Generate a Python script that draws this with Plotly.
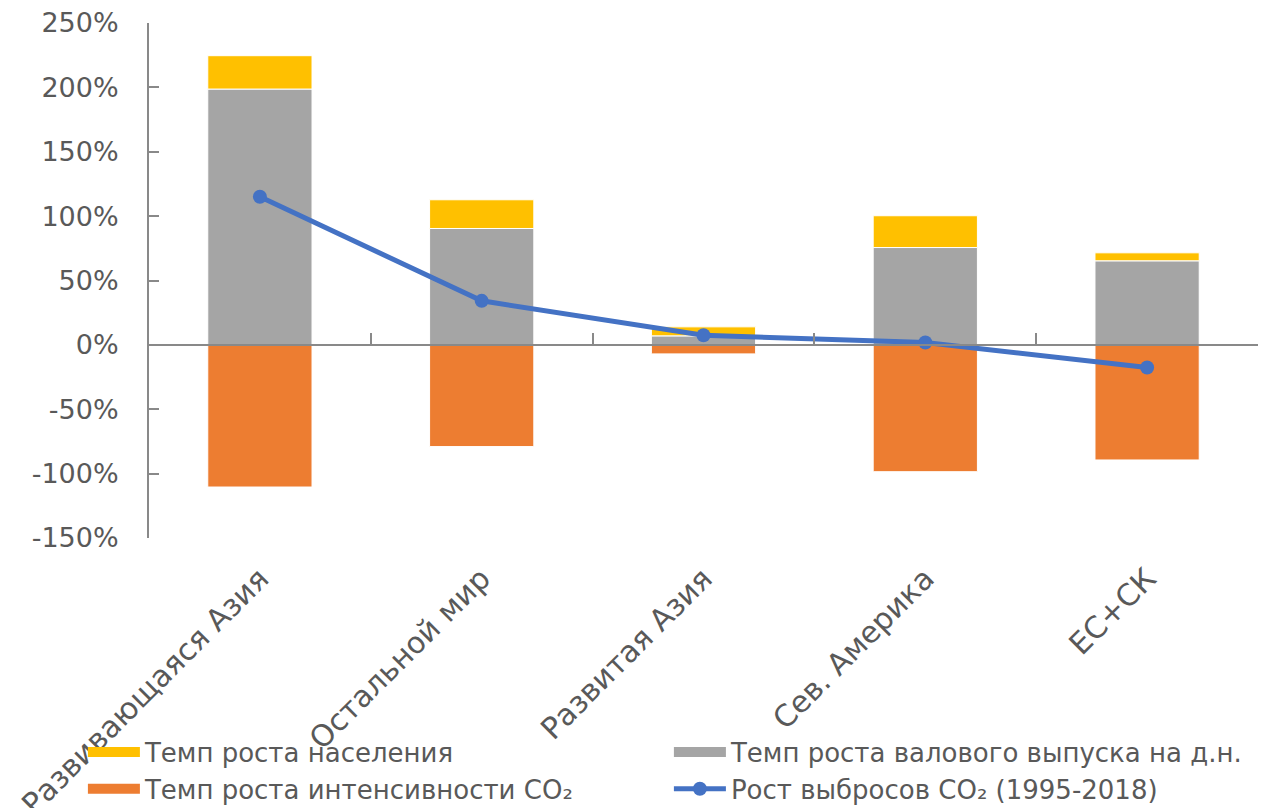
import plotly.graph_objects as go

categories = ["Развивающаяся Азия", "Остальной мир", "Развитая Азия", "Сев. Америка", "ЕС+СК"]
gdp_per_capita = [198.7, 90.4, 7.0, 75.6, 65.3]
population = [25.9, 22.3, 7.0, 24.7, 6.2]
co2_intensity = [-110.4, -79.0, -7.0, -98.5, -89.4]
co2_growth = [115.0, 34.2, 7.5, 1.8, -17.6]

name_pop = "Темп роста населения"
name_gdp = "Темп роста валового выпуска на д.н."
name_int = "Темп роста интенсивности CO₂"
name_line = "Рост выбросов CO₂ (1995-2018)"

C_POP = "#FFC000"
C_GDP = "#A5A5A5"
C_INT = "#ED7D31"
C_LINE = "#4472C4"

FONT = "DejaVu Sans"
TXT = "#595959"
AX = "#898989"

fig = go.Figure()
fig.add_trace(go.Bar(x=categories, y=gdp_per_capita, name=name_gdp, legendgroup="gdp",
                     showlegend=False,
                     marker=dict(color=C_GDP, line=dict(color="white", width=1))))
fig.add_trace(go.Bar(x=categories, y=population, name=name_pop, legendgroup="pop",
                     showlegend=False,
                     marker=dict(color=C_POP, line=dict(color="white", width=1))))
fig.add_trace(go.Bar(x=categories, y=co2_intensity, name=name_int, legendgroup="int",
                     showlegend=False,
                     marker=dict(color=C_INT, line=dict(color="white", width=1))))
fig.add_trace(go.Scatter(x=categories, y=co2_growth, name=name_line, legendrank=4,
                         mode="lines+markers",
                         line=dict(color=C_LINE, width=5),
                         marker=dict(color=C_LINE, size=14)))

# legend keys for the bar series (wide rectangles as in the reference)
for nm, col, grp, rank in [(name_pop, C_POP, "pop", 1), (name_gdp, C_GDP, "gdp", 2),
                           (name_int, C_INT, "int", 3)]:
    fig.add_trace(go.Scatter(x=[None], y=[None], mode="lines", name=nm, legendgroup=grp,
                             legendrank=rank, line=dict(color=col, width=15),
                             hoverinfo="skip"))

# helper axis: category axis line at zero with boundary ticks
fig.add_trace(go.Scatter(x=[None], y=[None], xaxis="x2", showlegend=False, hoverinfo="skip"))

zero_pos = 150 / 400.0

fig.update_layout(
    width=1263, height=808,
    paper_bgcolor="white", plot_bgcolor="white",
    barmode="relative", bargap=0.53,
    margin=dict(l=149, r=5, t=23, b=270, autoexpand=False),
    font=dict(family=FONT, color=TXT, size=26),
    xaxis=dict(type="category", categoryorder="array", categoryarray=categories,
               tickangle=-45, showline=False, ticks="", showgrid=False,
               zeroline=False, automargin=False,
               tickfont=dict(family=FONT, size=30, color=TXT), ticklabelstandoff=16),
    xaxis2=dict(overlaying="x", anchor="free", position=zero_pos, range=[-0.5, 4.5],
                tickvals=[-0.5, 0.5, 1.5, 2.5, 3.5, 4.5], ticks="inside", ticklen=11,
                tickwidth=1.5, tickcolor=AX, showline=True, linecolor=AX, linewidth=2,
                showticklabels=False, showgrid=False, zeroline=False, side="bottom"),
    yaxis=dict(range=[-150, 250], tickvals=[-150, -100, -50, 0, 50, 100, 150, 200, 250],
               ticktext=["-150%", "-100%", "-50%", "0%", "50%", "100%", "150%", "200%", "250%"],
               showline=True, linecolor=AX, linewidth=2, ticks="inside", ticklen=10,
               tickwidth=1.5, tickcolor=AX, showgrid=False, zeroline=False,
               ticklabelstandoff=23, automargin=False,
               tickfont=dict(family=FONT, size=27, color=TXT)),
    legend=dict(orientation="h", x=-0.0596, xanchor="left", y=-0.37, yanchor="top",
                entrywidth=519, entrywidthmode="pixels", itemwidth=52,
                font=dict(family=FONT, size=26, color=TXT), bgcolor="rgba(0,0,0,0)",
                tracegroupgap=0),
    showlegend=True,
)

fig.write_html("out.html", config={"displayModeBar": False},
               post_script="document.body.style.margin='0';")
